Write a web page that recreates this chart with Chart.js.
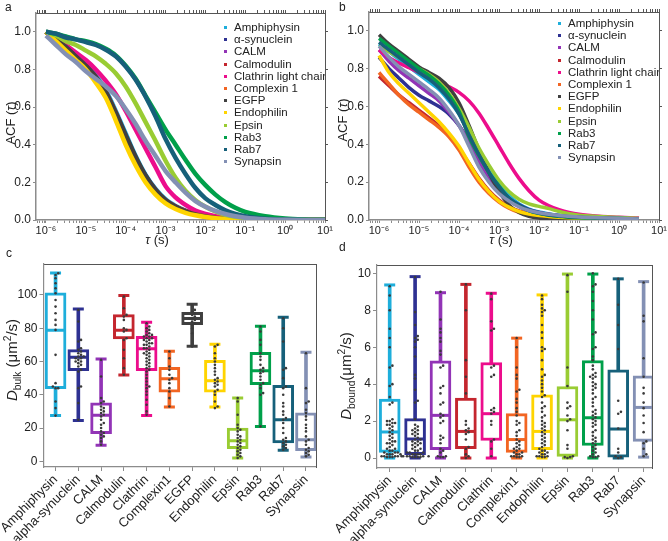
<!DOCTYPE html>
<html>
<head>
<meta charset="utf-8">
<script src="https://cdn.jsdelivr.net/npm/chart.js@4.4.1/dist/chart.umd.min.js"></script>
<style>
  html, body { margin: 0; padding: 0; background: #fff; }
  body { width: 668px; height: 541px; position: relative; overflow: hidden;
         font-family: "Liberation Sans", Arial, sans-serif; color: #222; }
  .panel { position: absolute; }
  .tag { position: absolute; font-size: 12px; }
  /* 標題以 left/top 為中心點 */
  .ytitle, .xtitle { position: absolute; width: 200px; height: 18px; line-height: 18px; margin-left: -100px; margin-top: -9px;
                     text-align: center; white-space: nowrap; font-size: 13px; }
  .ytitle { transform: rotate(-90deg); }
  .big { font-size: 15px; }
  sub, sup { font-size: 68%; line-height: 0; }
  .legend { position: absolute; font-size: 11.5px; line-height: 12.2px; overflow: hidden; }
  .legend div { position: relative; padding-left: 12px; white-space: nowrap; }
  .legend span { position: absolute; left: 2px; top: 5px; width: 3px; height: 3px; }
</style>
</head>
<body>
<div class="panel" style="left:0;top:0"><canvas id="chartA" width="334" height="250"></canvas></div>
<div class="panel" style="left:334px;top:0"><canvas id="chartB" width="334" height="250"></canvas></div>
<div class="panel" style="left:0;top:250px"><canvas id="chartC" width="334" height="291"></canvas></div>
<div class="panel" style="left:334px;top:250px"><canvas id="chartD" width="334" height="291"></canvas></div>

<div class="tag" style="left:5px;top:0">a</div>
<div class="tag" style="left:339px;top:0">b</div>
<div class="tag" style="left:6px;top:246px">c</div>
<div class="tag" style="left:339px;top:240px">d</div>

<div class="xtitle" style="left:157px;top:240px"><i>τ</i> (s)</div>
<div class="xtitle" style="left:501px;top:240px"><i>τ</i> (s)</div>
<div class="ytitle big" style="left:12px;top:360px"><i>D</i><sub>bulk</sub> (μm<sup>2</sup>/s)</div>
<div class="ytitle big" style="left:346px;top:376px"><i>D</i><sub>bound</sub>(μm<sup>2</sup>/s)</div>

<div id="legendA" class="legend" style="left:222px;top:21px;width:103px"></div>
<div id="legendB" class="legend" style="left:556px;top:17px;width:103px"></div>

<script>
/* ---- 資料 ---- */
const ACF_NAMES = ['Amphiphysin', 'α-synuclein', 'CALM', 'Calmodulin', 'Clathrin light chain', 'Complexin 1',
                   'EGFP', 'Endophilin', 'Epsin', 'Rab3', 'Rab7', 'Synapsin'];
const COLORS = ['#1eaedb', '#2e3192', '#9234b6', '#c4262e', '#ec0d8c', '#f26522',
                '#404040', '#ffd400', '#99cc33', '#00a04a', '#16607a', '#8390b4'];

const TAU = [1e-6, 1.78e-6, 3.16e-6, 5.62e-6, 1e-5, 1.78e-5, 3.16e-5, 5.62e-5, 1e-4, 1.78e-4, 3.16e-4, 5.62e-4,
             1e-3, 1.78e-3, 3.16e-3, 5.62e-3, 1e-2, 1.78e-2, 3.16e-2, 5.62e-2, 0.1, 0.316, 1, 3.16, 10];
const X_DECADES = [1e-6, 1e-5, 1e-4, 1e-3, 1e-2, 1e-1, 1, 10];
const X_LABELS = ['10⁻⁶', '10⁻⁵', '10⁻⁴', '10⁻³', '10⁻²', '10⁻¹', '10⁰', '10¹'];
const ACF_TICKS = [0, 0.2, 0.4, 0.6, 0.8, 1.0];

// panel a
const A_AMPH  = [1.00, 0.96, 0.92, 0.88, 0.83, 0.77, 0.69, 0.58, 0.46, 0.34, 0.24, 0.165, 0.11, 0.075, 0.05, 0.033, 0.021, 0.013, 0.008, 0.005, 0.003, 0.001, 0, 0, 0];
const A_SYN   = [1.00, 0.96, 0.92, 0.87, 0.82, 0.76, 0.68, 0.57, 0.45, 0.33, 0.235, 0.16, 0.105, 0.07, 0.047, 0.031, 0.02, 0.012, 0.007, 0.004, 0.002, 0.001, 0, 0, 0];
const A_CALM  = [1.00, 0.95, 0.91, 0.86, 0.81, 0.75, 0.67, 0.56, 0.44, 0.32, 0.225, 0.155, 0.10, 0.068, 0.045, 0.03, 0.019, 0.012, 0.007, 0.004, 0.002, 0.001, 0, 0, 0];
const A_CALMO = [1.00, 0.95, 0.91, 0.87, 0.82, 0.76, 0.68, 0.57, 0.44, 0.33, 0.23, 0.16, 0.105, 0.072, 0.048, 0.032, 0.02, 0.012, 0.007, 0.004, 0.002, 0.001, 0, 0, 0];
const A_CLATH = [1.00, 0.97, 0.93, 0.89, 0.85, 0.80, 0.74, 0.67, 0.58, 0.48, 0.38, 0.28, 0.18, 0.12, 0.08, 0.05, 0.032, 0.02, 0.012, 0.007, 0.004, 0.001, 0, 0, 0];
const A_CPLX  = [1.00, 0.95, 0.91, 0.86, 0.81, 0.75, 0.67, 0.56, 0.43, 0.32, 0.225, 0.155, 0.10, 0.068, 0.045, 0.03, 0.019, 0.011, 0.006, 0.004, 0.002, 0.001, 0, 0, 0];
const A_EGFP  = [1.00, 0.96, 0.92, 0.87, 0.82, 0.76, 0.68, 0.57, 0.45, 0.335, 0.235, 0.16, 0.105, 0.07, 0.046, 0.03, 0.019, 0.011, 0.006, 0.004, 0.002, 0.001, 0, 0, 0];
const A_ENDO  = [1.00, 0.95, 0.90, 0.85, 0.80, 0.73, 0.65, 0.53, 0.40, 0.29, 0.20, 0.135, 0.088, 0.058, 0.038, 0.025, 0.016, 0.01, 0.006, 0.003, 0.002, 0.001, 0, 0, 0];
const A_EPSIN = [1.00, 0.98, 0.95, 0.93, 0.90, 0.87, 0.83, 0.78, 0.71, 0.62, 0.52, 0.42, 0.315, 0.225, 0.155, 0.105, 0.07, 0.045, 0.028, 0.017, 0.01, 0.003, 0.001, 0, 0];
const A_RAB3  = [1.00, 0.99, 0.975, 0.96, 0.95, 0.935, 0.91, 0.875, 0.82, 0.75, 0.66, 0.57, 0.48, 0.40, 0.32, 0.245, 0.185, 0.135, 0.095, 0.065, 0.043, 0.02, 0.008, 0.003, 0.001];
const A_RAB7  = [1.00, 0.99, 0.97, 0.96, 0.945, 0.93, 0.905, 0.87, 0.815, 0.745, 0.655, 0.55, 0.43, 0.33, 0.245, 0.17, 0.115, 0.08, 0.052, 0.033, 0.02, 0.007, 0.002, 0, 0];
const A_SYNAP = [0.98, 0.93, 0.88, 0.84, 0.79, 0.75, 0.71, 0.66, 0.59, 0.51, 0.42, 0.34, 0.26, 0.20, 0.145, 0.10, 0.07, 0.048, 0.032, 0.02, 0.012, 0.004, 0.001, 0, 0];

// panel b
const B_AMPH  = [0.93, 0.89, 0.85, 0.81, 0.77, 0.73, 0.69, 0.63, 0.56, 0.46, 0.36, 0.27, 0.19, 0.13, 0.085, 0.058, 0.042, 0.032, 0.025, 0.02, 0.016, 0.012, 0.009, 0.005, null];
const B_SYN   = [0.86, 0.80, 0.75, 0.70, 0.66, 0.63, 0.60, 0.56, 0.50, 0.42, 0.33, 0.24, 0.17, 0.115, 0.08, 0.055, 0.04, 0.03, 0.024, 0.019, 0.015, 0.011, 0.008, 0.004, null];
const B_CALM  = [0.90, 0.84, 0.79, 0.75, 0.71, 0.67, 0.63, 0.57, 0.50, 0.41, 0.31, 0.225, 0.155, 0.105, 0.072, 0.05, 0.037, 0.028, 0.022, 0.018, 0.015, 0.011, 0.008, 0.004, null];
const B_CALMO = [0.76, 0.71, 0.66, 0.62, 0.58, 0.54, 0.50, 0.45, 0.38, 0.30, 0.22, 0.155, 0.105, 0.07, 0.048, 0.035, 0.027, 0.022, 0.018, 0.015, 0.012, 0.009, 0.006, 0.003, null];
const B_CLATH = [0.90, 0.86, 0.83, 0.805, 0.78, 0.755, 0.73, 0.705, 0.675, 0.63, 0.565, 0.48, 0.39, 0.30, 0.22, 0.155, 0.105, 0.075, 0.055, 0.04, 0.03, 0.02, 0.015, 0.01, null];
const B_CPLX  = [0.78, 0.72, 0.66, 0.61, 0.57, 0.53, 0.49, 0.44, 0.37, 0.28, 0.20, 0.14, 0.095, 0.062, 0.04, 0.026, 0.019, 0.014, 0.011, 0.009, 0.008, 0.006, 0.004, 0.003, null];
const B_EGFP  = [0.98, 0.93, 0.89, 0.85, 0.81, 0.78, 0.75, 0.70, 0.62, 0.50, 0.37, 0.25, 0.15, 0.08, 0.04, 0.02, 0.01, 0.005, 0.003, 0.002, 0.001, 0, 0, 0, null];
const B_ENDO  = [0.87, 0.78, 0.72, 0.67, 0.62, 0.57, 0.52, 0.46, 0.39, 0.30, 0.215, 0.15, 0.10, 0.068, 0.045, 0.032, 0.024, 0.019, 0.015, 0.012, 0.01, 0.007, 0.005, 0.003, null];
const B_EPSIN = [0.92, 0.89, 0.86, 0.83, 0.80, 0.77, 0.73, 0.67, 0.59, 0.49, 0.38, 0.29, 0.21, 0.15, 0.11, 0.085, 0.072, 0.06, 0.045, 0.033, 0.025, 0.018, 0.013, 0.008, null];
const B_RAB3  = [0.96, 0.92, 0.88, 0.84, 0.80, 0.765, 0.72, 0.66, 0.575, 0.44, 0.34, 0.25, 0.18, 0.115, 0.075, 0.05, 0.035, 0.025, 0.02, 0.015, 0.012, 0.01, 0.008, 0.005, null];
const B_RAB7  = [0.94, 0.90, 0.86, 0.82, 0.78, 0.745, 0.70, 0.64, 0.56, 0.45, 0.345, 0.25, 0.175, 0.115, 0.075, 0.05, 0.036, 0.027, 0.021, 0.017, 0.014, 0.011, 0.008, 0.005, null];
const B_SYNAP = [0.92, 0.86, 0.81, 0.77, 0.73, 0.69, 0.645, 0.58, 0.50, 0.39, 0.28, 0.20, 0.14, 0.10, 0.07, 0.05, 0.038, 0.03, 0.024, 0.02, 0.016, 0.012, 0.009, 0.005, null];

// panel c (D bulk)
const C_NAMES = ['Amphiphysin', 'alpha-synuclein', 'CALM', 'Calmodulin', 'Clathrin', 'Complexin1',
                 'EGFP', 'Endophilin', 'Epsin', 'Rab3', 'Rab7', 'Synapsin'];
const C_COLORS = COLORS;
const C_MIN = [27.5, 24.6, 9.6, 51.9, 27.5, 32.7, 69.1, 32.7, 2.0, 21.0, 6.6, 2.6];
const C_Q1  = [43.7, 54.5, 16.6, 73.5, 54.5, 41.5, 82.2, 41.5, 7.6, 46.1, 11.0, 6.4];
const C_MED = [78.8, 62.5, 27.7, 78.8, 67.7, 49.7, 85.8, 48.5, 12.4, 54.5, 25.0, 13.0];
const C_Q3  = [101.2, 67.1, 35.1, 88.2, 75.2, 56.5, 89.6, 60.7, 20.0, 65.5, 45.7, 29.1];
const C_MAX = [113.2, 91.6, 61.5, 99.6, 83.6, 66.1, 94.4, 70.3, 38.1, 81.2, 86.6, 65.5];
const C_TICKS = [0, 20, 40, 60, 80, 100];
const C_DOTS = [
  [113, 112, 110, 107, 104, 101, 97, 93, 89, 85, 82, 79, 64, 47, 45, 44, 44, 36, 32, 27.5],
  [91, 84, 73, 72, 68, 67, 66, 65, 64, 63, 63, 62, 62, 61, 60, 60, 59, 58, 57, 55, 54, 45, 44, 35, 25],
  [61, 51, 38, 36, 35, 33, 32, 31, 30, 29, 28, 27, 25, 23, 22, 20, 18, 17, 16, 15, 14, 12, 10],
  [99, 92, 88, 87, 85, 80, 79, 78, 74, 73, 67, 62, 56, 52],
  [83, 81, 80, 79, 78, 77, 76, 76, 75, 75, 74, 74, 73, 73, 72, 71, 71, 70, 70, 69, 68, 68, 67, 66, 65, 65, 64, 63, 62, 61,
   60, 59, 58, 57, 56, 55, 54, 52, 50, 48, 46, 45, 44, 42, 40, 37, 34, 30, 28],
  [66, 62, 57, 55, 52, 50, 49, 47, 44, 42, 38, 33],
  [94, 91, 90, 89, 88, 87, 86, 86, 85, 84, 83, 82, 80, 77, 69],
  [70, 69, 65, 62, 60, 58, 56, 54, 52, 50, 49, 48, 47, 46, 45, 43, 42, 40, 36, 33, 32],
  [38, 36, 28, 22, 20, 19, 18, 16, 15, 14, 13, 12, 11, 10, 9, 8, 7, 6, 5, 4, 3, 2],
  [81, 78, 73, 70, 65, 63, 61, 58, 56, 55, 54, 53, 51, 49, 47, 46, 44, 41, 40, 21],
  [86, 80, 72, 56, 55, 50, 45, 44, 40, 35, 33, 30, 28, 26, 25, 23, 20, 17, 14, 13, 12, 11, 10, 9, 8, 7],
  [65, 44, 36, 35, 31, 29, 27, 25, 22, 20, 18, 15, 13, 12, 10, 8, 7, 6, 5, 4, 3]
];

// panel d (D bound)
const D_NAMES = ['Amphiphysin', 'alpha-synuclein', 'CALM', 'Calmodulin', 'Clathrin', 'Complexin1',
                 'Endophilin', 'Epsin', 'Rab3', 'Rab7', 'Synapsin'];
const D_COLORS = COLORS.filter((_, i) => i !== 6);
const D_MIN = [0, 0, 0, 0, 0, 0, 0, 0, 0, 0, 0.05];
const D_Q1  = [0.31, 0.18, 0.45, 0.5, 0.95, 0.31, 0.45, 0.09, 0.68, 0.05, 0.9];
const D_MED = [1.41, 1.03, 2.31, 1.44, 2.4, 1.0, 1.44, 2.07, 2.18, 1.57, 2.74];
const D_Q3  = [3.19, 2.13, 5.26, 3.24, 5.17, 2.4, 3.42, 3.87, 5.28, 4.77, 4.45];
const D_MAX = [9.37, 9.82, 8.95, 9.4, 8.92, 6.49, 8.83, 9.96, 9.96, 9.7, 9.55];
const D_TICKS = [0, 2, 4, 6, 8, 10];
const D_DOTS = [
  [9.3, 8.8, 8.0, 7.0, 6.5, 6.0, 5.0, 4.9, 4.0, 3.9, 3.3, 3.0, 2.9, 2.1, 2.0, 2.0, 1.9, 1.9, 1.8, 1.8, 1.7, 1.6, 1.5, 1.4,
   1.3, 1.2, 1.1, 1.0, 0.9, 0.9, 0.8, 0.8, 0.7, 0.6, 0.5, 0.5, 0.4, 0.4, 0.3, 0.3, 0.3, 0.2, 0.2, 0.2, 0.2, 0.1, 0.1, 0.1,
   0.1, 0.1, 0.05, 0.05, 0.05],
  [9.8, 7.9, 7.2, 6.6, 6.5, 6.4, 6.3, 6.0, 5.5, 4.5, 4.3, 3.7, 3.1, 3.0, 2.1, 1.8, 1.7, 1.6, 1.5, 1.5, 1.4, 1.3, 1.3, 1.2,
   1.1, 1.0, 1.0, 0.9, 0.9, 0.8, 0.8, 0.7, 0.7, 0.6, 0.5, 0.5, 0.4, 0.4, 0.3, 0.3, 0.3, 0.2, 0.2, 0.2, 0.2, 0.1, 0.1, 0.1,
   0.1, 0.1, 0.05, 0.05, 0.05, 0.05],
  [9.0, 7.5, 7.0, 6.8, 6.5, 6.3, 5.8, 5.6, 5.0, 4.9, 3.9, 3.8, 3.5, 3.0, 2.9, 2.4, 2.3, 2.2, 2.0, 1.9, 1.2, 1.1, 1.0, 0.8,
   0.5, 0.4, 0.3, 0.1, 0.1, 0.05, 0.05],
  [9.4, 8.0, 5.3, 4.4, 3.5, 2.0, 1.8, 1.6, 1.5, 1.4, 1.3, 1.0, 0.6, 0.5, 0.2, 0.1, 0.0],
  [8.9, 8.6, 7.4, 7.0, 6.9, 5.0, 4.9, 4.5, 4.4, 2.7, 2.6, 2.5, 2.4, 2.0, 1.8, 1.0, 0.9, 0.5, 0.1],
  [6.5, 6.0, 4.9, 4.5, 4.3, 3.7, 3.6, 3.2, 3.0, 2.7, 2.5, 2.3, 2.0, 1.9, 1.8, 1.5, 1.4, 1.2, 1.0, 0.9, 0.8, 0.7, 0.6, 0.5,
   0.5, 0.4, 0.3, 0.3, 0.2, 0.2, 0.1, 0.1, 0.1, 0.05, 0.05],
  [8.8, 8.6, 8.3, 8.1, 8.0, 7.9, 7.7, 7.2, 6.8, 6.5, 6.0, 5.9, 5.8, 5.3, 4.8, 4.5, 4.4, 4.2, 4.0, 3.8, 3.6, 3.4, 3.3, 3.0,
   2.8, 2.7, 2.5, 2.3, 2.2, 2.0, 1.9, 1.8, 1.7, 1.6, 1.5, 1.4, 1.3, 1.2, 1.1, 1.0, 0.9, 0.8, 0.7, 0.6, 0.5, 0.4, 0.4, 0.3,
   0.3, 0.2, 0.2, 0.1, 0.1, 0.1, 0.05, 0.05],
  [9.9, 9.0, 4.9, 3.9, 3.0, 2.8, 2.7, 2.3, 2.1, 2.0, 1.5, 0.7, 0.5, 0.1, 0.05, 0.05, 0.0],
  [10.0, 9.4, 9.3, 9.0, 8.5, 8.0, 7.5, 6.8, 6.7, 6.0, 5.9, 5.5, 5.3, 5.0, 4.8, 4.6, 4.5, 4.4, 4.4, 4.3, 4.1, 4.0, 3.9, 3.8,
   3.7, 3.5, 3.3, 3.2, 3.0, 2.8, 2.6, 2.5, 2.4, 2.3, 2.2, 2.1, 2.0, 1.9, 1.8, 1.7, 1.5, 1.4, 1.2, 1.1, 1.0, 0.9, 0.8, 0.7,
   0.6, 0.5, 0.4, 0.3, 0.2, 0.1, 0.1, 0.05, 0.05],
  [9.7, 8.3, 7.2, 5.9, 3.1, 2.5, 2.4, 1.6, 0.5, 0.3, 0.1, 0.05, 0.0],
  [9.5, 7.7, 7.4, 5.4, 4.4, 3.8, 3.5, 3.0, 2.7, 2.3, 1.9, 1.4, 0.9, 0.8, 0.5, 0.2, 0.1]
];

/* ---- 共用設定 ---- */
Chart.defaults.font.family = '"Liberation Sans", Arial, sans-serif';
Chart.defaults.font.size = 12;
Chart.defaults.color = '#222';
Chart.defaults.animation = false;

const FONT = '"Liberation Sans", Arial, sans-serif';
const AXIS = '#8c8c8c', FRAME = '#555';
const size = (prop, v) => s => { s[prop] = v; };
const noPlugins = { legend: { display: false }, tooltip: { enabled: false } };

// 對數軸的主次刻度
const logTicks = [6e-7, 7e-7, 8e-7, 9e-7];
X_DECADES.slice(0, -1).forEach(d => { for (let m = 1; m < 10; m++) logTicks.push(d * m); });
logTicks.push(10);
const decadeLabel = v => {
  const k = X_DECADES.findIndex(d => Math.abs(v / d - 1) < 1e-6);
  return k < 0 ? '' : X_LABELS[k];
};

// 直立的 y 軸標題「ACF (τ)」，τ 用斜體
const acfTitle = (cx, cy) => ({
  id: 'acfTitle',
  afterDraw(chart) {
    const ctx = chart.ctx;
    const parts = [['ACF (', 'normal'], ['τ', 'italic'], [')', 'normal']];
    ctx.save();
    ctx.translate(cx, cy);
    ctx.rotate(-Math.PI / 2);
    ctx.fillStyle = '#222';
    ctx.textBaseline = 'middle';
    let total = 0;
    parts.forEach(([t, s]) => { ctx.font = `${s} 13px ${FONT}`; total += ctx.measureText(t).width; });
    let x = -total / 2;
    parts.forEach(([t, s]) => { ctx.font = `${s} 13px ${FONT}`; ctx.fillText(t, x, 0); x += ctx.measureText(t).width; });
    ctx.restore();
  },
});

function acfChart(id, series, area, lineW, title) {
  const W = 334, H = 250;
  const xBase = {
    type: 'logarithmic', min: 5.62e-7, max: 10,
    afterBuildTicks: s => { s.ticks = logTicks.map(v => ({ value: v })); },
  };
  const yBase = {
    min: 0, max: 1.1,
    afterBuildTicks: s => { s.ticks = ACF_TICKS.map(v => ({ value: v })); },
  };
  new Chart(document.getElementById(id), {
    type: 'line',
    data: {
      datasets: ACF_NAMES.map((n, i) => ({
        label: n,
        data: TAU.map((t, j) => ({ x: t, y: series[i][j] })),
        borderColor: COLORS[i], backgroundColor: COLORS[i],
        borderWidth: lineW, pointRadius: 0, cubicInterpolationMode: 'monotone',
        order: -i,
      })),
    },
    plugins: [acfTitle(title.x, title.y)],
    options: {
      responsive: false, layout: { padding: 0 }, plugins: noPlugins,
      scales: {
        x: { ...xBase, position: 'bottom',
             ticks: { autoSkip: false, maxRotation: 0, padding: 1, callback: decadeLabel, font: { size: 11 } },
             grid: { drawOnChartArea: false, tickLength: 3, tickColor: AXIS },
             border: { color: AXIS, width: 1.5 },
             afterFit: size('height', H - area.bottom) },
        xTop: { ...xBase, position: 'top',
             ticks: { display: false },
             grid: { drawOnChartArea: false, tickLength: 3, tickColor: FRAME },
             border: { color: FRAME, width: 1 },
             afterFit: size('height', area.top) },
        y: { ...yBase, position: 'left',
             ticks: { padding: 2, callback: v => v.toFixed(1) },
             grid: { drawOnChartArea: false, tickLength: 3, tickColor: AXIS },
             border: { color: AXIS, width: 1.5 },
             afterFit: size('width', area.left) },
        yRight: { ...yBase, position: 'right',
             ticks: { display: false },
             grid: { drawOnChartArea: false, tickLength: 3, tickColor: FRAME },
             border: { color: FRAME, width: 1 },
             afterFit: size('width', W - area.right) },
      },
    },
  });
}

// 蜂群排列：依 y 排序後左右交錯放置，避免點重疊
function swarm(values, pxPerY, pxPerX, gap) {
  const placed = [];
  return values.slice().sort((a, b) => a - b).map(v => {
    for (let k = 0; ; k++) {
      const off = (k % 2 ? 1 : -1) * Math.ceil(k / 2) * gap;
      if (placed.every(p => Math.hypot(p.off - off, (p.v - v) * pxPerY) >= gap)) {
        placed.push({ v, off });
        return { off: off / pxPerX, v };
      }
    }
  });
}

function boxChart(id, p, area) {
  const W = 334, H = 291;
  const idx = p.names.map((_, i) => i);
  const pxPerY = (area.bottom - area.top) / (p.yMax - p.yMin);
  const pxPerX = (area.right - area.left) / (p.xMax - p.xMin);
  const dots = [];
  idx.forEach(i => swarm(p.dots[i], pxPerY, pxPerX, 2.7).forEach(d => dots.push({ x: i + d.off, y: d.v })));
  const caps = [], capColors = [];
  idx.forEach(i => { caps.push({ x: i, y: p.min[i] }, { x: i, y: p.max[i] }); capColors.push(p.colors[i], p.colors[i]); });

  new Chart(document.getElementById(id), {
    type: 'bar',
    data: {
      datasets: [
        { type: 'bar', data: idx.map(i => ({ x: i, y: [p.min[i], p.max[i]] })), backgroundColor: p.colors,
          grouped: false, barPercentage: 1, categoryPercentage: 1, maxBarThickness: 3, order: 5 },
        { type: 'bar', data: idx.map(i => ({ x: i, y: [p.q1[i], p.q3[i]] })), backgroundColor: '#fff',
          borderColor: p.colors, borderWidth: 3, borderSkipped: false,
          grouped: false, barPercentage: 1, categoryPercentage: 1, maxBarThickness: 21, order: 4 },
        { type: 'line', data: idx.map(i => ({ x: i, y: p.med[i] })), showLine: false, pointStyle: 'line',
          pointRadius: 9.5, pointBorderWidth: 3, pointBorderColor: p.colors, order: 3 },
        { type: 'line', data: caps, showLine: false, pointStyle: 'line',
          pointRadius: 5.5, pointBorderWidth: 3, pointBorderColor: capColors, order: 2 },
        { type: 'line', data: dots, showLine: false, pointRadius: 1.3, pointBorderWidth: 0,
          pointBackgroundColor: '#3a3a3a', order: 1 },
      ],
    },
    options: {
      responsive: false, layout: { padding: 0 }, plugins: noPlugins,
      scales: {
        x: { type: 'linear', min: p.xMin, max: p.xMax, offset: false,
             afterBuildTicks: s => { s.ticks = idx.map(i => ({ value: i })); },
             ticks: { autoSkip: false, minRotation: 45, maxRotation: 45, padding: 1,
                      font: { size: 13 }, callback: v => p.names[v] },
             grid: { offset: false, drawOnChartArea: false, tickLength: 4, tickColor: AXIS },
             border: { color: AXIS, width: 1.2 },
             afterFit: size('height', H - area.bottom) },
        xTop: { type: 'linear', position: 'top', min: p.xMin, max: p.xMax,
             ticks: { display: false }, grid: { display: false },
             border: { color: FRAME, width: 1 },
             afterFit: size('height', area.top) },
        y: { min: p.yMin, max: p.yMax,
             afterBuildTicks: s => { s.ticks = p.yTicks.map(v => ({ value: v })); },
             ticks: { padding: 2, font: { size: 12 } },
             grid: { drawOnChartArea: false, tickLength: 4, tickColor: AXIS },
             border: { color: AXIS, width: 1.2 },
             afterFit: size('width', area.left) },
        yRight: { position: 'right', min: p.yMin, max: p.yMax,
             ticks: { display: false }, grid: { display: false },
             border: { color: FRAME, width: 1 },
             afterFit: size('width', W - area.right) },
      },
    },
  });
}

/* ---- 圖例 ---- */
['legendA', 'legendB'].forEach(id => {
  document.getElementById(id).innerHTML = ACF_NAMES.map((n, i) =>
    `<div><span style="background:${COLORS[i]}"></span>${n}</div>`).join('');
});

/* ---- 繪圖 ---- */
acfChart('chartA',
  [A_AMPH, A_SYN, A_CALM, A_CALMO, A_CLATH, A_CPLX, A_EGFP, A_ENDO, A_EPSIN, A_RAB3, A_RAB7, A_SYNAP],
  { left: 36, top: 13, right: 325, bottom: 220 }, 4.5, { x: 11, y: 123 });
acfChart('chartB',
  [B_AMPH, B_SYN, B_CALM, B_CALMO, B_CLATH, B_CPLX, B_EGFP, B_ENDO, B_EPSIN, B_RAB3, B_RAB7, B_SYNAP],
  { left: 35, top: 12, right: 325, bottom: 220 }, 3.5, { x: 9, y: 120 });

boxChart('chartC', {
  names: C_NAMES, colors: C_COLORS, min: C_MIN, q1: C_Q1, med: C_MED, q3: C_Q3, max: C_MAX, dots: C_DOTS,
  yMin: -3.4, yMax: 118.6, yTicks: C_TICKS, xMin: -0.53, xMax: 11.44,
}, { left: 42, top: 14, right: 316, bottom: 217 });
boxChart('chartD', {
  names: D_NAMES, colors: D_COLORS, min: D_MIN, q1: D_Q1, med: D_MED, q3: D_Q3, max: D_MAX, dots: D_DOTS,
  yMin: -0.54, yMax: 10.45, yTicks: D_TICKS, xMin: -0.5, xMax: 10.33,
}, { left: 43, top: 15, right: 318, bottom: 218 });
</script>
</body>
</html>
